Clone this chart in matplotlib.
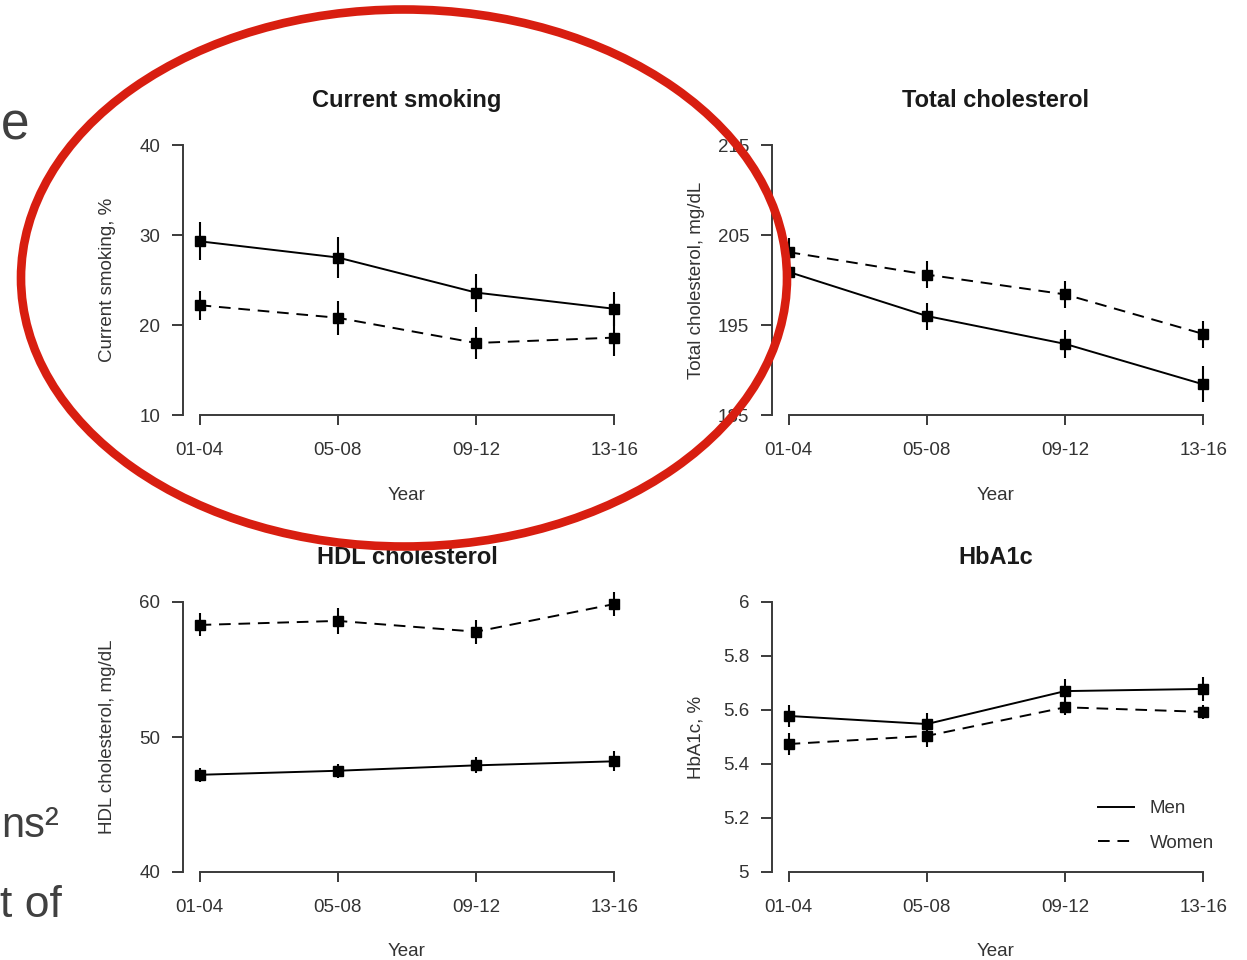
import numpy as np
import matplotlib
matplotlib.use("Agg")
import matplotlib.pyplot as plt
from matplotlib.patches import Ellipse
from matplotlib.lines import Line2D

plt.rcParams['font.family'] = ['Liberation Sans', 'DejaVu Sans']

# ---- data ----
periods = ["01-04", "05-08", "09-12", "13-16"]

smoke_men = [29.3, 27.5, 23.6, 21.8]
smoke_men_err = [2.1, 2.3, 2.1, 1.9]
smoke_women = [22.2, 20.8, 18.0, 18.6]
smoke_women_err = [1.6, 1.9, 1.8, 2.0]

chol_men = [200.9, 196.0, 192.9, 188.4]
chol_men_err = [2.0, 1.5, 1.6, 2.0]
chol_women = [203.1, 200.6, 198.4, 194.0]
chol_women_err = [1.6, 1.5, 1.5, 1.5]

hdl_men = [47.2, 47.5, 47.9, 48.2]
hdl_men_err = [0.5, 0.5, 0.6, 0.75]
hdl_women = [58.3, 58.6, 57.8, 59.85]
hdl_women_err = [0.85, 0.95, 0.9, 0.9]

hba_men = [5.578, 5.548, 5.670, 5.678]
hba_men_err = [0.04, 0.04, 0.045, 0.045]
hba_women = [5.474, 5.504, 5.610, 5.593]
hba_women_err = [0.04, 0.04, 0.03, 0.025]

titles = ["Current smoking", "Total cholesterol", "HDL cholesterol", "HbA1c"]
ylabels = ["Current smoking, %", "Total cholesterol, mg/dL", "HDL cholesterol, mg/dL", "HbA1c, %"]
yticks_list = [[10, 20, 30, 40], [185, 195, 205, 215], [40, 50, 60], [5, 5.2, 5.4, 5.6, 5.8, 6]]
yticklabels_list = [["10", "20", "30", "40"], ["185", "195", "205", "215"], ["40", "50", "60"],
                    ["5", "5.2", "5.4", "5.6", "5.8", "6"]]
legend_labels = ["Men", "Women"]

W, H = 1247, 960
fig = plt.figure(figsize=(W / 100, H / 100), dpi=100)
fig.patch.set_facecolor('white')

AX_COL = '#3a3a3a'
TXT_COL = '#333333'
FS = 13.5
DASH = (0, (6, 4))


def px_rect(left, right, top, bottom):
    return [left / W, 1 - bottom / H, (right - left) / W, (bottom - top) / H]


def panel(rect, title, ylabel, yticks, yticklabels, men, men_err, women, women_err):
    ax = fig.add_axes(rect)
    x = np.arange(1, len(periods) + 1)
    for vals, errs, ls in ((men, men_err, '-'), (women, women_err, DASH)):
        ax.errorbar(x, vals, yerr=errs, fmt='none', ecolor='black', elinewidth=1.5,
                    capsize=0, clip_on=False, zorder=3)
        ax.plot(x, vals, color='black', lw=1.4, ls=ls, clip_on=False, zorder=2)
        ax.plot(x, vals, ls='none', marker='s', ms=6.5, color='black', clip_on=False, zorder=4)
    ax.set_xlim(0.88, 4.12)
    ax.set_ylim(yticks[0], yticks[-1])
    ax.set_xticks(x)
    ax.set_xticklabels(periods)
    ax.set_yticks(yticks)
    ax.set_yticklabels(yticklabels)
    for s in ('top', 'right'):
        ax.spines[s].set_visible(False)
    ax.spines['left'].set_bounds(yticks[0], yticks[-1])
    ax.spines['bottom'].set_bounds(1, 4)
    for s in ('left', 'bottom'):
        ax.spines[s].set_color(AX_COL)
        ax.spines[s].set_linewidth(1.4)
    ax.tick_params(axis='y', length=8, width=1.4, color=AX_COL, pad=8.5,
                   labelsize=FS, labelcolor=TXT_COL)
    ax.tick_params(axis='x', length=7, width=1.4, color=AX_COL, pad=12.5,
                   labelsize=FS, labelcolor=TXT_COL)
    ax.set_facecolor('none')
    h_px = rect[3] * H
    w_px = rect[2] * W
    ax.text(0.5, 1 + 45 / h_px, title, transform=ax.transAxes, ha='center', va='center',
            fontsize=17, fontweight='bold', color='#1a1a1a')
    ax.set_xlabel("Year", fontsize=FS, color=TXT_COL, va='center')
    ax.xaxis.set_label_coords(0.5, -80 / h_px)
    ax.set_ylabel(ylabel, fontsize=FS, color=TXT_COL, va='center')
    ax.yaxis.set_label_coords(-76 / w_px, 0.5)
    return ax


ax1 = panel(px_rect(183, 631, 145, 415), titles[0], ylabels[0], yticks_list[0], yticklabels_list[0],
            smoke_men, smoke_men_err, smoke_women, smoke_women_err)
ax2 = panel(px_rect(772, 1220, 145, 415), titles[1], ylabels[1], yticks_list[1], yticklabels_list[1],
            chol_men, chol_men_err, chol_women, chol_women_err)
ax3 = panel(px_rect(183, 631, 602, 872), titles[2], ylabels[2], yticks_list[2], yticklabels_list[2],
            hdl_men, hdl_men_err, hdl_women, hdl_women_err)
ax4 = panel(px_rect(772, 1220, 602, 872), titles[3], ylabels[3], yticks_list[3], yticklabels_list[3],
            hba_men, hba_men_err, hba_women, hba_women_err)

handles = [Line2D([], [], color='black', lw=1.4, ls='-'),
           Line2D([], [], color='black', lw=1.4, ls=DASH)]
leg = ax4.legend(handles, legend_labels, frameon=False, loc='upper left',
                 bbox_to_anchor=(1098 / W, 1 - 800 / H), bbox_transform=fig.transFigure,
                 borderpad=0, borderaxespad=0, handlelength=1.9, handletextpad=0.85,
                 labelspacing=0.92, fontsize=FS)
for t in leg.get_texts():
    t.set_color(TXT_COL)

# slide text fragments at left edge
SLIDE_COL = '#404040'
fig.text(1 / W, 1 - 139 / H, "e", ha='left', va='baseline', fontsize=37, color=SLIDE_COL)
fig.text(1 / W, 1 - 837 / H, "ns\u00b2", ha='left', va='baseline', fontsize=30, color=SLIDE_COL)
fig.text(62 / W, 1 - 917 / H, "t of", ha='right', va='baseline', fontsize=32, color=SLIDE_COL)

# red highlight ellipse overlay
ov = fig.add_axes([0, 0, 1, 1], zorder=10)
ov.set_xlim(0, W)
ov.set_ylim(H, 0)
ov.axis('off')
ov.patch.set_alpha(0)
ov.add_patch(Ellipse((404, 278), 766, 537, fill=False, edgecolor='#d81e10', lw=6.2))

fig.savefig("out.png", dpi=100, facecolor='white')
